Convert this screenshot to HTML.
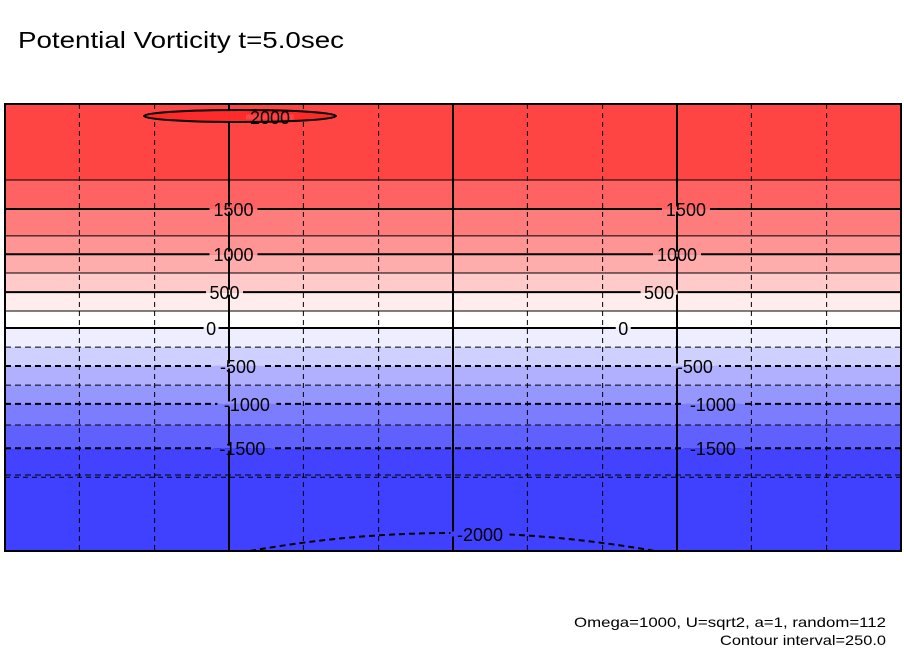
<!DOCTYPE html>
<html><head><meta charset="utf-8"><style>
body{margin:0;background:#fff;width:904px;height:654px;overflow:hidden;font-family:"Liberation Sans",sans-serif}
</style></head><body>
<svg id="chart" width="904" height="654" viewBox="0 0 904 654" xmlns="http://www.w3.org/2000/svg">
<text x="18" y="48" font-size="23" fill="#000" textLength="326" lengthAdjust="spacingAndGlyphs">Potential Vorticity t=5.0sec</text>
<g id="bands"></g>
<g id="grid"></g>
<g id="contours"></g>
<g id="labels" font-size="18" fill="#000"></g>
<rect x="5" y="104" width="896" height="447" fill="none" stroke="#000" stroke-width="2"/>
<text x="886" y="627" font-size="14" text-anchor="end" textLength="312" lengthAdjust="spacingAndGlyphs">Omega=1000, U=sqrt2, a=1, random=112</text>
<text x="886" y="645" font-size="14" text-anchor="end" textLength="166" lengthAdjust="spacingAndGlyphs">Contour interval=250.0</text>
</svg>
<script>
// contour levels and their meridional positions (0 = top, 100 = bottom)
const levels = [1750,1500,1250,1000,750,500,250,0,-250,-500,-750,-1000,-1250,-1500,-1750];
const levelPos = [17.0,23.5,29.5,33.6,37.8,42.1,46.3,50.1,54.4,58.6,62.9,67.1,71.8,77.0,83.0];
const bandColors = ["#ff4444","#ff6262","#ff7c7c","#ff9494","#ffacac","#ffcaca","#ffecec","#ffffff","#eeeeff","#d0d0ff","#b0b0ff","#9696ff","#7c7cff","#6060ff","#4242ff","#4040ff"];
const gridX = [8.3,16.7,25,33.3,41.7,50,58.3,66.7,75,83.3,91.7];
const labelLevels = [1500,1500,1000,1000,500,500,0,0,-500,-500,-1000,-1000,-1500,-1500];
const labelXs = [25.5,76,25.5,75,24.5,73,23,69,26,77,27,79,26.5,79];
const X0=5,X1=901,Y0=104,Y1=551;
const sx=v=>X0+(X1-X0)*v/100, sy=v=>Y0+(Y1-Y0)*v/100;
const NS='http://www.w3.org/2000/svg';
function mk(t,a,p){const e=document.createElementNS(NS,t);for(const k in a)e.setAttribute(k,a[k]);p.appendChild(e);return e;}
const bands=document.getElementById('bands');
const bnd=[0,...levelPos,100];
for(let i=0;i<bandColors.length;i++){
  const r=mk('rect',{x:X0,y:sy(bnd[i]),width:X1-X0,height:sy(bnd[i+1])-sy(bnd[i]),fill:bandColors[i]},bands);
  
  
}
const grid=document.getElementById('grid');
gridX.forEach((g,i)=>{
  const solid=(i==2||i==5||i==8);
  const l=mk('line',{x1:sx(g),x2:sx(g),y1:Y0,y2:Y1,stroke:'#000','stroke-width':solid?2:1,'stroke-dasharray':solid?'none':'5,4'},grid);
  
  
});
[17.0,83.5].forEach((p,i)=>{
  const l=mk('line',{x1:X0,x2:X1,y1:sy(p),y2:sy(p),stroke:'#000','stroke-width':1,'stroke-dasharray':'5,4'},grid);
  
  
});
const cg=document.getElementById('contours');
levels.forEach((lv,i)=>{
  const major=(lv%500===0);
  const l=mk('line',{x1:X0,x2:X1,y1:sy(levelPos[i]),y2:sy(levelPos[i]),stroke:'#000','stroke-width':major?2:1,'stroke-dasharray':lv<0?'6,4':'none'},cg);
  
  
});
const e=mk('ellipse',{cx:240,cy:116,rx:96,ry:6,fill:'#ff2a2a',stroke:'#000','stroke-width':2},cg);


const a=mk('path',{d:'M250 551 Q450 515 655 551',fill:'none',stroke:'#000','stroke-width':2,'stroke-dasharray':'6,4'},cg);


const lg=document.getElementById('labels');
function label(txt,x,y,bgTop,bgBot,name){
  const w=txt.length*11+4;
  const r1=mk('rect',{x:x-w/2,y:y-2.5,width:w,height:2.5,fill:bgTop},lg);
  
  
  const r2=mk('rect',{x:x-w/2,y:y,width:w,height:2.5,fill:bgBot},lg);
  
  
  const t=mk('text',{x:x,y:y+7,'text-anchor':'middle'},lg);
  t.textContent=txt;
  
  
}
labelLevels.forEach((lv,i)=>{
  const k=levels.indexOf(lv);
  label(lv<0?'-'+(-lv):String(lv),sx(labelXs[i]),sy(levelPos[k]),bandColors[k],bandColors[k+1],'label-'+lv+'-'+i);
});
label('2000',270,117,bandColors[0],bandColors[0],'label-2000');
label('-2000',480,534,bandColors[15],bandColors[15],'label-neg2000');
</script>
</body></html>
